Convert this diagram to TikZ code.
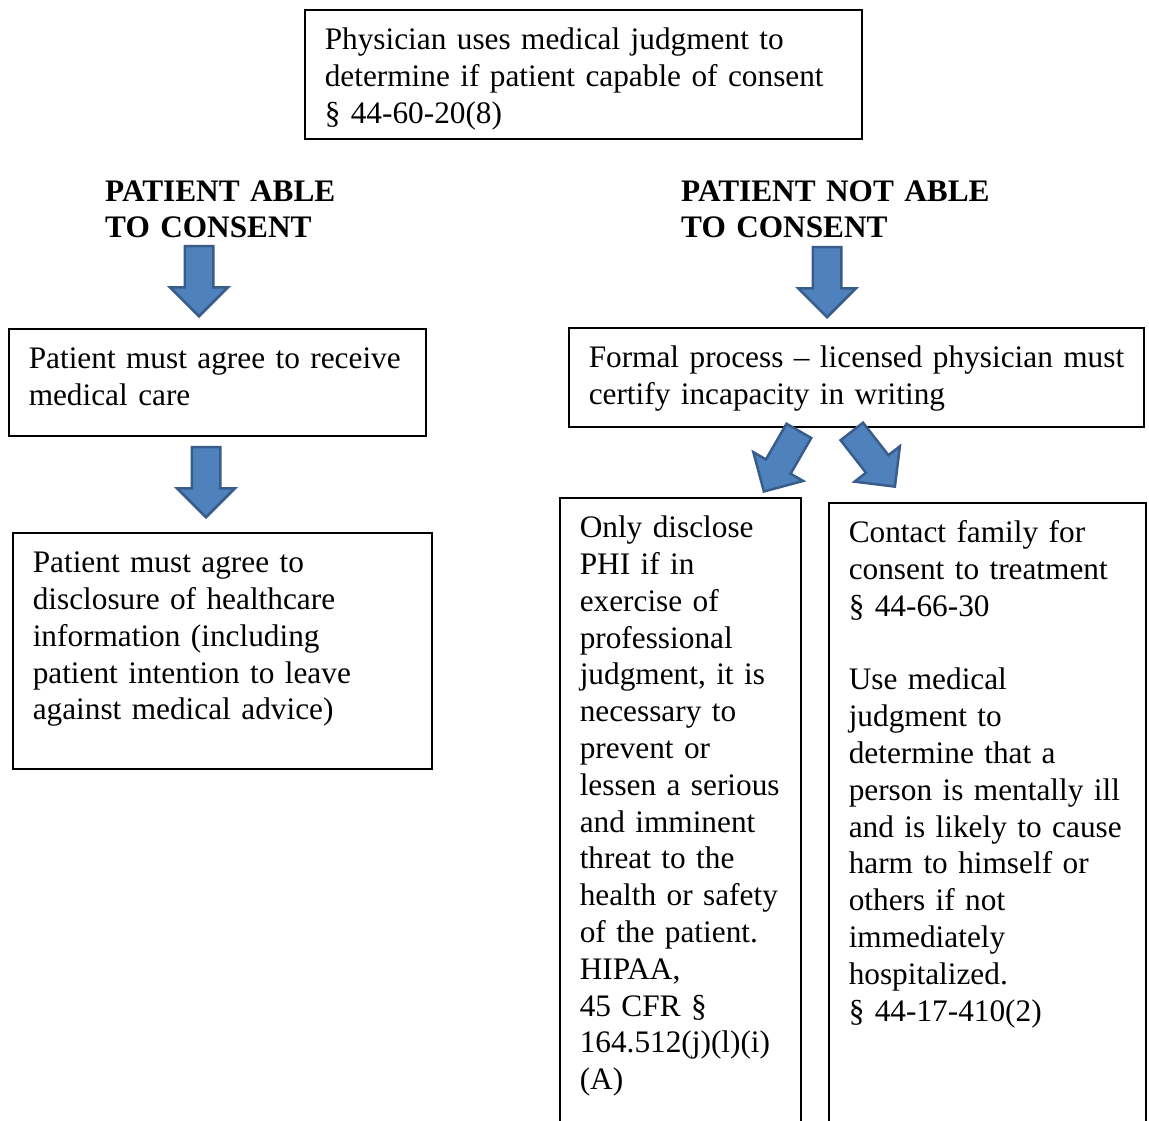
\documentclass[tikz,border=0pt]{standalone}
\usepackage{fontspec}
\setmainfont{Liberation Serif}
\usepackage{xcolor}
\usepackage{tikz}
\usetikzlibrary{shapes.arrows,positioning}

\definecolor{arrowfill}{HTML}{4F81BD}
\definecolor{arrowline}{HTML}{385D8A}
\hyphenpenalty=10000

\begin{document}
\begin{tikzpicture}[
	%	style def
    x=1pt, y=-1pt,
    text box/.style={draw, line width=1.5pt, anchor=north west, align=left,
      inner xsep=20pt, inner ysep=18pt, text height=22pt,
      font=\fontsize{31.3pt}{36.8pt}\selectfont},
    header text/.style={anchor=base west, align=left, inner sep=0pt, text width=330pt,
      font=\fontsize{31.3pt}{36.8pt}\selectfont\bfseries},
    block arrow/.style={single arrow, draw=arrowline, fill=arrowfill, line width=2.5pt,
      anchor=tip, inner sep=13pt, minimum height=70pt, single arrow head extend=14.5pt}
    ]

    \useasboundingbox (0,0) rectangle (1149,1120);
    \fill[white] (0,0) rectangle (1149,1120);
    \clip (0,0) rectangle (1149,1120);

	% top question
    \node[text box, text width=517pt, text depth=71pt] (judge) at (304,9)
      {Physician uses medical judgment to\\determine if patient capable of consent\\§ 44-60-20(8)};

    % the two branches
    \node[header text] (able) at (105,201) {PATIENT ABLE\\TO CONSENT};
    \node[header text] (notable) at (681,201) {PATIENT NOT ABLE\\TO CONSENT};

    % left side
    \node[text box, text width=377pt, text depth=49pt] (agreecare) at (8,328)
      {Patient must agree to receive\\medical care};
    \node[text box, text width=379pt, text depth=178pt] (agreeinfo) at (12,532)
      {Patient must agree to\\disclosure of healthcare\\information (including\\patient intention to leave\\against medical advice)};

    % right side
    \node[text box, text width=535pt, text depth=41pt] (formal) at (568,327)
      {\mbox{Formal process -- licensed physician must}\\certify incapacity in writing};
    \node[text box, text width=201pt, text depth=602pt] (disclose) at (559,497)
      {Only disclose\\PHI if in\\exercise of\\professional\\judgment, it is\\necessary to\\prevent or\\lessen a serious\\and imminent\\threat to the\\health or safety\\of the patient.\\HIPAA,\\45 CFR §\\164.512(j)(l)(i)\\(A)};
    \node[text box, text width=277pt, text depth=602pt] (family) at (828,502)
      {Contact family for\\consent to treatment\\§ 44-66-30\\[36.8pt]Use medical\\judgment to\\determine that a\\person is mentally ill\\and is likely to cause\\harm to himself or\\others if not\\immediately\\hospitalized.\\§ 44-17-410(2)};

    % block arrows
    \node[block arrow, rotate=270] (a1) at (199,318) {};
    \node[block arrow, rotate=270] (a2) at (206,519) {};
    \node[block arrow, rotate=270] (a3) at (827,319) {};
    \node[block arrow, rotate=240] (a4) at (763,493) {};
    \node[block arrow, rotate=308] (a5) at (896,488) {};

\end{tikzpicture}
\end{document}
